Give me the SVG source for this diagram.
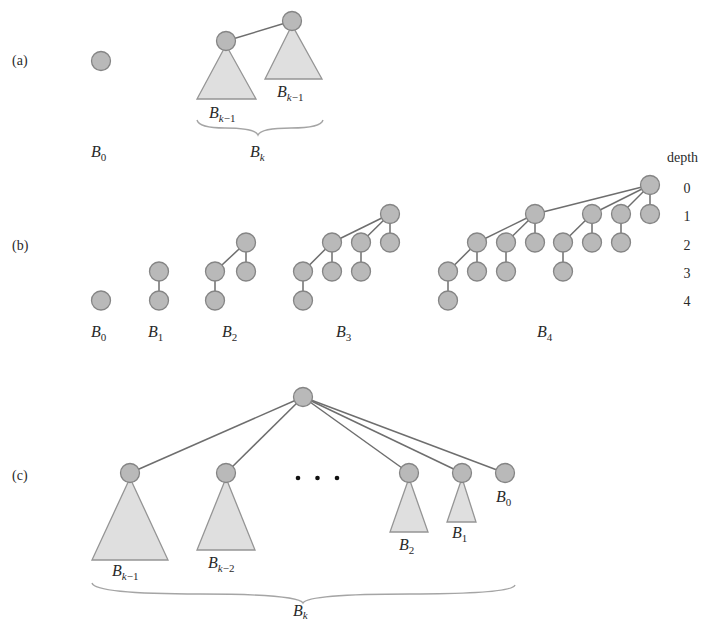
<svg xmlns="http://www.w3.org/2000/svg" width="710" height="622" viewBox="0 0 710 622">
<style>
.n{fill:#b9b9b9;stroke:#858585;stroke-width:1.3}
.t{fill:#dfdfdf;stroke:#959595;stroke-width:1.3}
.e{stroke:#6e6e6e;stroke-width:1.5;fill:none}
.br{stroke:#a5a5a5;stroke-width:1.4;fill:none}
.lbl{font-family:"Liberation Serif",serif;font-style:italic;font-size:16px;fill:#2a2a2a}
.sub{font-size:11px}
.up{font-style:normal}
.pl{font-family:"Liberation Serif",serif;font-size:14px;fill:#2a2a2a}
</style>
<rect width="710" height="622" fill="#fff"/>
<g id="partlabels">
<text class="pl" x="12" y="65">(a)</text>
<text class="pl" x="12" y="250">(b)</text>
<text class="pl" x="12" y="480">(c)</text>
</g>
<g id="connectors">
<line class="e" x1="226" y1="41" x2="292" y2="21"/>
<line class="e" x1="159" y1="271.5" x2="159" y2="300.5"/>
<line class="e" x1="246" y1="242.5" x2="215" y2="271.5"/>
<line class="e" x1="246" y1="242.5" x2="246" y2="271.5"/>
<line class="e" x1="215" y1="271.5" x2="215" y2="300.5"/>
<line class="e" x1="390" y1="214" x2="332" y2="242.5"/>
<line class="e" x1="390" y1="214" x2="361" y2="242.5"/>
<line class="e" x1="390" y1="214" x2="390" y2="242.5"/>
<line class="e" x1="332" y1="242.5" x2="303" y2="271.5"/>
<line class="e" x1="332" y1="242.5" x2="332" y2="271.5"/>
<line class="e" x1="361" y1="242.5" x2="361" y2="271.5"/>
<line class="e" x1="303" y1="271.5" x2="303" y2="300.5"/>
<line class="e" x1="650" y1="185" x2="535" y2="214"/>
<line class="e" x1="650" y1="185" x2="592" y2="214"/>
<line class="e" x1="650" y1="185" x2="621" y2="214"/>
<line class="e" x1="650" y1="185" x2="650" y2="214"/>
<line class="e" x1="535" y1="214" x2="477" y2="242.5"/>
<line class="e" x1="535" y1="214" x2="506" y2="242.5"/>
<line class="e" x1="535" y1="214" x2="535" y2="242.5"/>
<line class="e" x1="592" y1="214" x2="563" y2="242.5"/>
<line class="e" x1="592" y1="214" x2="592" y2="242.5"/>
<line class="e" x1="621" y1="214" x2="621" y2="242.5"/>
<line class="e" x1="477" y1="242.5" x2="448" y2="271.5"/>
<line class="e" x1="477" y1="242.5" x2="477" y2="271.5"/>
<line class="e" x1="506" y1="242.5" x2="506" y2="271.5"/>
<line class="e" x1="563" y1="242.5" x2="563" y2="271.5"/>
<line class="e" x1="448" y1="271.5" x2="448" y2="300.5"/>
<line class="e" x1="303" y1="397" x2="130" y2="473"/>
<line class="e" x1="303" y1="397" x2="226" y2="473"/>
<line class="e" x1="303" y1="397" x2="409" y2="473"/>
<line class="e" x1="303" y1="397" x2="462" y2="473"/>
<line class="e" x1="303" y1="397" x2="505" y2="473"/>
</g>
<g id="a-B0"><circle class="n" cx="101" cy="61" r="9.5"/></g>
<g id="a-left"><polygon class="t" points="226,45 197,99 256,99"/><circle class="n" cx="226" cy="41" r="9.5"/></g>
<g id="a-right"><polygon class="t" points="292,25 265,79 322,79"/><circle class="n" cx="292" cy="21" r="9.5"/></g>
<g id="a-labels">
<text class="lbl" x="209" y="118">B<tspan class="sub" dy="4">k<tspan class="up">−1</tspan></tspan></text>
<text class="lbl" x="277" y="97">B<tspan class="sub" dy="4">k<tspan class="up">−1</tspan></tspan></text>
<path class="br" d="M197,120 Q199,128 225,128 Q255,128 258,135 Q261,128 291,128 Q321,128 323,120"/>
<text class="lbl" x="250" y="157">B<tspan class="sub" dy="4">k</tspan></text>
<text class="lbl" x="91" y="157">B<tspan class="sub up" dy="4">0</tspan></text>
</g>
<g id="b-B0"><circle class="n" cx="101" cy="300.5" r="9.5"/></g>
<g id="b-B1"><circle class="n" cx="159" cy="271.5" r="9.5"/><circle class="n" cx="159" cy="300.5" r="9.5"/></g>
<g id="b-B2">
<circle class="n" cx="246" cy="242.5" r="9.5"/><circle class="n" cx="215" cy="271.5" r="9.5"/><circle class="n" cx="246" cy="271.5" r="9.5"/><circle class="n" cx="215" cy="300.5" r="9.5"/>
</g>
<g id="b-B3">
<circle class="n" cx="390" cy="214" r="9.5"/>
<circle class="n" cx="332" cy="242.5" r="9.5"/><circle class="n" cx="361" cy="242.5" r="9.5"/><circle class="n" cx="390" cy="242.5" r="9.5"/>
<circle class="n" cx="303" cy="271.5" r="9.5"/><circle class="n" cx="332" cy="271.5" r="9.5"/><circle class="n" cx="361" cy="271.5" r="9.5"/>
<circle class="n" cx="303" cy="300.5" r="9.5"/>
</g>
<g id="b-B4">
<circle class="n" cx="650" cy="185" r="9.5"/>
<circle class="n" cx="535" cy="214" r="9.5"/><circle class="n" cx="592" cy="214" r="9.5"/><circle class="n" cx="621" cy="214" r="9.5"/><circle class="n" cx="650" cy="214" r="9.5"/>
<circle class="n" cx="477" cy="242.5" r="9.5"/><circle class="n" cx="506" cy="242.5" r="9.5"/><circle class="n" cx="535" cy="242.5" r="9.5"/><circle class="n" cx="563" cy="242.5" r="9.5"/><circle class="n" cx="592" cy="242.5" r="9.5"/><circle class="n" cx="621" cy="242.5" r="9.5"/>
<circle class="n" cx="448" cy="271.5" r="9.5"/><circle class="n" cx="477" cy="271.5" r="9.5"/><circle class="n" cx="506" cy="271.5" r="9.5"/><circle class="n" cx="563" cy="271.5" r="9.5"/>
<circle class="n" cx="448" cy="300.5" r="9.5"/>
</g>
<g id="b-labels">
<text class="lbl" x="91" y="337">B<tspan class="sub up" dy="4">0</tspan></text>
<text class="lbl" x="148" y="337">B<tspan class="sub up" dy="4">1</tspan></text>
<text class="lbl" x="222" y="337">B<tspan class="sub up" dy="4">2</tspan></text>
<text class="lbl" x="336" y="337">B<tspan class="sub up" dy="4">3</tspan></text>
<text class="lbl" x="537" y="337">B<tspan class="sub up" dy="4">4</tspan></text>
</g>
<g id="depth">
<text class="pl" x="667" y="162">depth</text>
<text class="pl" x="687" y="193" text-anchor="middle">0</text>
<text class="pl" x="687" y="221" text-anchor="middle">1</text>
<text class="pl" x="687" y="250" text-anchor="middle">2</text>
<text class="pl" x="687" y="278" text-anchor="middle">3</text>
<text class="pl" x="687" y="306" text-anchor="middle">4</text>
</g>
<g id="c-root"><circle class="n" cx="303" cy="397" r="9.5"/></g>
<g id="c-Bk1"><polygon class="t" points="130,478 92,560 168,560"/><circle class="n" cx="130" cy="473" r="9.5"/></g>
<g id="c-Bk2"><polygon class="t" points="226,478 197,550 255,550"/><circle class="n" cx="226" cy="473" r="9.5"/></g>
<g id="c-dots"><circle cx="298" cy="478" r="2.3" fill="#111"/><circle cx="317.5" cy="478" r="2.3" fill="#111"/><circle cx="337" cy="478" r="2.3" fill="#111"/></g>
<g id="c-B2"><polygon class="t" points="409,478 390,532 428,532"/><circle class="n" cx="409" cy="473" r="9.5"/></g>
<g id="c-B1"><polygon class="t" points="462,478 447,522 476,522"/><circle class="n" cx="462" cy="473" r="9.5"/></g>
<g id="c-B0"><circle class="n" cx="505" cy="473" r="9.5"/></g>
<g id="c-labels">
<text class="lbl" x="112" y="576">B<tspan class="sub" dy="4">k<tspan class="up">−1</tspan></tspan></text>
<text class="lbl" x="208" y="568">B<tspan class="sub" dy="4">k<tspan class="up">−2</tspan></tspan></text>
<text class="lbl" x="399" y="550">B<tspan class="sub up" dy="4">2</tspan></text>
<text class="lbl" x="452" y="538">B<tspan class="sub up" dy="4">1</tspan></text>
<text class="lbl" x="496" y="502">B<tspan class="sub up" dy="4">0</tspan></text>
<path class="br" d="M92,583 Q95,594 200,594 Q298,594 303,603 Q308,594 410,594 Q512,594 515,585"/>
<text class="lbl" x="293" y="616">B<tspan class="sub" dy="3">k</tspan></text>
</g>
</svg>
